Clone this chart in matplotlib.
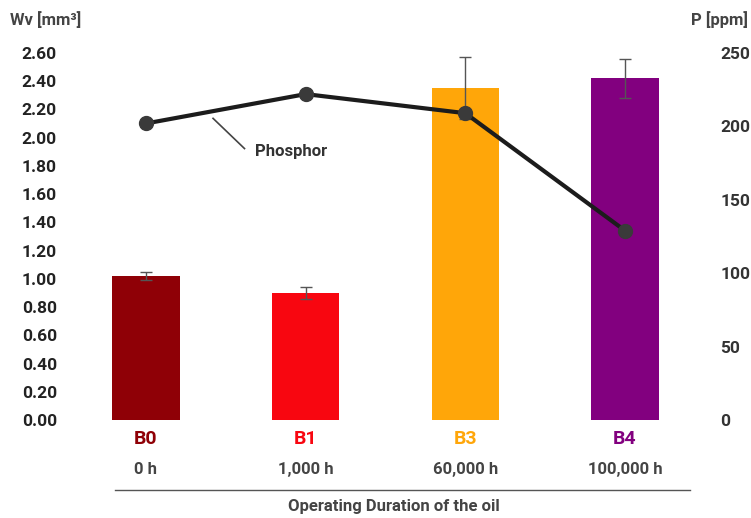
import numpy as np
import matplotlib.pyplot as plt
from matplotlib.transforms import blended_transform_factory

plt.rcParams['font.family'] = ['Roboto', 'DejaVu Sans']
plt.rcParams['font.weight'] = 'bold'

# data
samples = ['B0', 'B1', 'B3', 'B4']
hours = ['0 h', '1,000 h', '60,000 h', '100,000 h']
wear = [1.02, 0.90, 2.35, 2.42]
wear_err = [0.03, 0.04, 0.22, 0.14]
phosphor = [202, 222, 209, 129]
bar_colors = ['#8f0006', '#f80610', '#ffa609', '#82007f']

fig = plt.figure(figsize=(7.51, 5.18), dpi=100)
W, H = 751, 518
ax = fig.add_axes([100 / W, 1 - 420 / H, 590 / W, 367 / H])

x = np.arange(len(samples))
ax.bar(x, wear, width=0.42, color=bar_colors, zorder=2)
ax.errorbar(x, wear, yerr=wear_err, fmt='none', ecolor='#555555',
            elinewidth=1, capsize=4, capthick=1, zorder=3)

ax.set_xlim(-0.288, 3.407)
ax.set_ylim(0, 2.6)
ax.set_yticks(np.arange(0, 2.61, 0.2))
ax.set_yticklabels([f'{v:.2f}' for v in np.arange(0, 2.61, 0.2)],
                   fontsize=12.5, fontweight='bold', color='#222222')
ax.tick_params(axis='y', length=0, pad=31)
ax.set_xticks(x)
ax.set_xticklabels(samples, fontsize=14, fontweight='bold')
for lbl, c in zip(ax.get_xticklabels(), bar_colors):
    lbl.set_color(c)
ax.tick_params(axis='x', length=0, pad=7)
for s in ax.spines.values():
    s.set_visible(False)

trans = blended_transform_factory(ax.transData, ax.transAxes)
for xi, h in zip(x, hours):
    ax.text(xi, -0.134, h, transform=trans, ha='center', va='center',
            fontsize=12, fontweight='bold', color='#444444')
ax.plot([-0.194, 3.407], [-0.191, -0.191], transform=trans, color='#555555',
        lw=1, clip_on=False)
ax.text(1.55, -0.237, 'Operating Duration of the oil', transform=trans,
        ha='center', va='center', fontsize=12, fontweight='bold', color='#444444')

ax2 = ax.twinx()
ax2.set_ylim(0, 250)
ax2.set_yticks(np.arange(0, 251, 50))
ax2.set_yticklabels([str(v) for v in range(0, 251, 50)], fontsize=12.5,
                    fontweight='bold', color='#333333')
ax2.tick_params(axis='y', length=0, pad=22)
for s in ax2.spines.values():
    s.set_visible(False)
ax2.plot(x, phosphor, color='#1c1c1c', lw=3, marker='o', markersize=10,
         markerfacecolor='#3a3a3a', markeredgecolor='#3a3a3a', zorder=4)

# leader line + label for the line series
ax.plot([0.42, 0.617], [2.137, 1.923], color='#444444', lw=1.2, zorder=3)
ax.text(0.683, 1.90, 'Phosphor', ha='left', va='center', fontsize=12,
        fontweight='bold', color='#333333')

fig.text(10 / W, 1 - 20 / H, 'Wv [mm³]', ha='left', va='center',
         fontsize=12, fontweight='bold', color='#444444')
fig.text(748 / W, 1 - 20 / H, 'P [ppm]', ha='right', va='center',
         fontsize=12, fontweight='bold', color='#444444')

fig.savefig('out.png', dpi=100)
